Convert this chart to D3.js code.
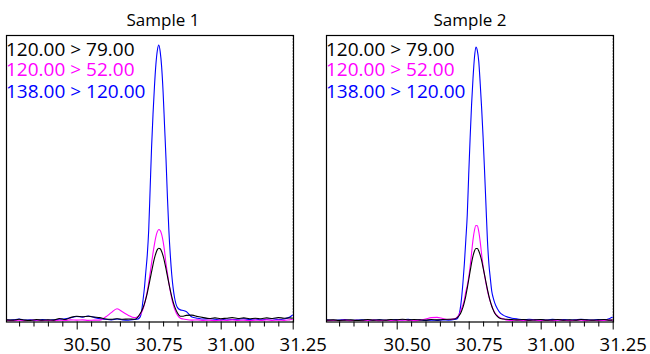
<!DOCTYPE html>
<html>
<head>
<meta charset="utf-8">
<script src="https://cdn.jsdelivr.net/npm/d3@7"></script>
<style>
body { margin: 0; background: #fff; }
svg { display: block; font-family: "Open Sans", sans-serif; }
</style>
</head>
<body>
<div id="chart"></div>
<script>
var w = 650;
var h = 354;

// retention times (min), shared by every trace
var times = [
  30.255, 30.28, 30.30, 30.32, 30.34, 30.36, 30.38, 30.40, 30.42, 30.44, 30.46, 30.48,
  30.50, 30.52, 30.54, 30.56, 30.58, 30.60, 30.62, 30.64, 30.66, 30.68, 30.70,
  30.71, 30.72, 30.725, 30.73, 30.735, 30.74, 30.745, 30.75, 30.755, 30.76, 30.765,
  30.77, 30.775, 30.78, 30.785, 30.79, 30.795, 30.80, 30.805, 30.81, 30.815, 30.82,
  30.825, 30.83, 30.835, 30.84, 30.85, 30.86, 30.87,
  30.88, 30.90, 30.92, 30.94, 30.96, 30.98, 31.00, 31.02, 31.04, 31.06, 31.08, 31.10,
  31.12, 31.14, 31.16, 31.18, 31.20, 31.22, 31.24, 31.25
];

// relative intensity (%), Sample 1
var s1Black = [
  0.6, 0.5, 0.8, 0.5, 0.4, 0.7, 0.5, 0.6, 0.5, 1.1, 0.7, 1.5, 1.9, 1.7, 1.9, 1.6, 1.4, 0.9, 0.8, 1.0, 0.8, 0.9, 0.8,
  1.3, 2.8, 3.7, 4.9, 6.4, 8.2, 10.3, 12.8, 15.4, 18.0, 20.6, 22.9, 24.7, 26.0, 26.5,
  26.3, 25.3, 23.7, 21.6, 19.1, 16.4, 13.8, 11.3, 9.0, 7.0, 5.4, 3.1, 1.9, 1.9,
  2.2, 2.3, 1.8, 1.4, 1.1, 1.3, 1.0, 1.2, 1.4, 1.1, 1.3, 1.0, 1.2, 1.0, 1.3, 1.1, 1.4, 1.2, 1.3, 1.2
];
var s1Magenta = [
  0.4, 0.3, 0.5, 0.3, 0.4, 0.5, 0.3, 0.4, 0.3, 0.5, 0.4, 0.6, 0.5, 0.6, 0.4, 0.5, 0.5, 1.6, 3.2, 4.6, 3.4, 2.2, 1.4,
  1.6, 2.4, 3.2, 4.4, 6.1, 8.3, 10.9, 14.0, 17.5, 21.2, 24.8, 28.0, 30.7, 32.5, 33.3,
  32.9, 31.5, 29.0, 25.5, 21.0, 17.5, 14.0, 11.0, 8.4, 6.2, 4.5, 2.3, 1.2, 0.9,
  0.7, 0.5, 0.6, 0.4, 0.5, 0.3, 0.5, 0.4, 0.6, 0.4, 0.5, 0.3, 0.5, 0.4, 0.6, 0.4, 0.5, 0.4, 0.6, 0.7
];
var s1Blue = [
  0.5, 0.6, 0.9, 0.5, 0.6, 0.4, 0.7, 0.5, 0.6, 0.8, 1.0, 1.4, 1.8, 1.6, 2.0, 1.5, 1.0, 0.8, 0.6, 0.9, 0.6, 0.5, 0.7,
  0.8, 1.6, 3.5, 7.5, 12, 18, 24, 33, 48, 63, 75, 85, 93, 98, 100,
  97.5, 92, 83, 71, 59, 45, 33, 24, 17, 12, 8.5, 5, 4.2, 4,
  3.6, 1.6, 1.2, 0.9, 1.0, 0.8, 0.6, 0.9, 0.7, 0.8, 1.0, 0.7, 0.9, 0.6, 0.8, 1.0, 0.7, 0.9, 1.6, 2.4
];

// relative intensity (%), Sample 2
var s2Black = [
  0.5, 0.6, 0.4, 0.5, 0.6, 0.4, 0.5, 0.7, 0.5, 0.6, 0.5, 0.7, 0.6, 0.8, 0.6, 0.7, 0.6, 0.5, 0.7, 0.6, 0.7, 0.8, 0.9,
  1.4, 2.6, 3.7, 5.1, 7.0, 9.3, 12.1, 15.1, 18.2, 21.2, 23.7, 25.5, 26.4, 26.4, 25.5,
  24.0, 22.0, 19.5, 16.9, 14.2, 11.6, 9.3, 7.3, 5.6, 4.2, 3.1, 1.8, 1.1, 0.9,
  0.8, 0.7, 0.6, 0.7, 0.5, 0.6, 0.7, 0.5, 0.6, 0.7, 0.5, 0.6, 0.5, 0.7, 0.6, 0.5, 0.6, 0.7, 0.5, 0.6
];
var s2Magenta = [
  0.3, 0.4, 0.3, 0.5, 0.3, 0.4, 0.3, 0.4, 0.5, 0.3, 0.4, 0.3, 0.4, 0.5, 0.4, 0.3, 0.5, 0.9, 1.4, 1.5, 1.1, 0.7, 1.0,
  1.6, 3.3, 4.6, 6.0, 7.9, 10.8, 13.0, 16.0, 20.0, 24.8, 29.6, 33.0, 34.7, 34.6, 32.5,
  28.8, 24.2, 20.0, 16.8, 13.8, 11.2, 9.0, 7.2, 5.6, 4.4, 3.3, 2.0, 1.3, 1.0,
  0.6, 0.4, 0.5, 0.3, 0.4, 0.5, 0.3, 0.4, 0.3, 0.5, 0.4, 0.3, 0.4, 0.5, 0.3, 0.4, 0.3, 0.4, 0.5, 0.4
];
var s2Blue = [
  0.6, 0.4, 0.5, 0.7, 0.4, 0.5, 0.6, 0.4, 0.5, 0.6, 0.4, 0.5, 0.7, 0.6, 0.8, 0.5, 0.6, 0.4, 0.5, 0.4, 0.6, 0.5, 0.7,
  1.0, 4.2, 8.2, 14, 21, 29.5, 38.5, 53, 66.5, 78.5, 88, 95.5, 99.3, 98, 94,
  86, 77, 66.6, 54.6, 42, 29.5, 21, 15.7, 11, 8.6, 6.8, 4.5, 3.0, 2.3,
  1.8, 1.2, 0.9, 0.7, 0.8, 0.6, 0.7, 0.5, 0.8, 0.6, 0.7, 0.5, 0.6, 0.8, 0.6, 0.5, 0.7, 0.6, 1.1, 1.6
];

var panelTitles = ["Sample 1", "Sample 2"];
var transitions = ["120.00 > 79.00", "120.00 > 52.00", "138.00 > 120.00"];
var traceColors = ["#000000", "#ff00ff", "#0000ff"];
var majorTicks = [30.50, 30.75, 31.00, 31.25];
var minorTicks = [30.30, 30.35, 30.40, 30.45, 30.55, 30.60, 30.65, 30.70,
                  30.80, 30.85, 30.90, 30.95, 31.05, 31.10, 31.15, 31.20];

var panels = [
  {title: panelTitles[0], dx: 0, titleX: 163, series: [s1Black, s1Magenta, s1Blue]},
  {title: panelTitles[1], dx: 320, titleX: 150, series: [s2Black, s2Magenta, s2Blue]}
];

// plot box inside each panel
var box = {left: 6, right: 294, top: 35, bottom: 322};

var x = d3.scaleLinear().domain([30.25, 31.25]).range([4.7, 292.7]);
var y = d3.scaleLinear().domain([0, 100]).range([321.5, 45]);

var line = d3.line()
    .x(function(d) { return x(d[0]); })
    .y(function(d) { return y(d[1]); })
    .curve(d3.curveMonotoneX);

var svg = d3.select("#chart")
    .append("svg")
    .attr("width", w)
    .attr("height", h);

svg.append("defs").append("clipPath")
    .attr("id", "plotclip")
  .append("rect")
    .attr("x", box.left)
    .attr("y", box.top)
    .attr("width", box.right - box.left)
    .attr("height", box.bottom - box.top);

panels.forEach(function(p) {
  var g = svg.append("g").attr("transform", "translate(" + p.dx + ",0)");

  g.append("text")
      .attr("x", p.titleX)
      .attr("y", 26)
      .attr("text-anchor", "middle")
      .style("font-size", "17px")
      .attr("fill", "#000")
      .text(p.title);

  // faint guide at the right end of the trace window
  g.append("line")
      .attr("x1", 292.5).attr("x2", 292.5)
      .attr("y1", box.top).attr("y2", box.bottom)
      .attr("stroke", "#d4d4d4")
      .attr("stroke-dasharray", "2,1");

  // traces: blue first, black last
  var plot = g.append("g").attr("clip-path", "url(#plotclip)");
  [2, 1, 0].forEach(function(i) {
    var pts = times.map(function(t, k) { return [t, p.series[i][k]]; });
    plot.append("path")
        .datum(pts)
        .attr("fill", "none")
        .attr("stroke", traceColors[i])
        .attr("stroke-width", 1.1)
        .attr("d", line);
  });

  g.append("rect")
      .attr("x", box.left + 0.5)
      .attr("y", box.top + 0.5)
      .attr("width", box.right - box.left - 1)
      .attr("height", box.bottom - box.top - 0.5)
      .attr("fill", "none")
      .attr("stroke", "#000")
      .attr("stroke-width", 1.2);

  // minor ticks
  var minorAxis = g.append("g")
      .attr("transform", "translate(0," + (box.bottom - 0.5) + ")")
      .call(d3.axisBottom(x).tickValues(minorTicks).tickSize(5).tickFormat(""));
  minorAxis.select(".domain").remove();

  // major ticks with labels
  var majorAxis = g.append("g")
      .attr("transform", "translate(0," + (box.bottom - 0.5) + ")")
      .call(d3.axisBottom(x).tickValues(majorTicks).tickSize(8).tickFormat(d3.format(".2f")));
  majorAxis.select(".domain").remove();
  majorAxis.selectAll("text")
      .attr("x", 10)
      .attr("y", 29)
      .attr("dy", null)
      .attr("fill", "#000")
      .style("font-family", "'Open Sans', sans-serif")
      .style("font-size", "18.5px");
  g.selectAll(".tick line").attr("stroke", "#000");

  // transition legend
  var legendY = [56, 75.5, 97.5];
  transitions.forEach(function(label, i) {
    g.append("text")
        .attr("x", 6)
        .attr("y", legendY[i])
        .attr("fill", traceColors[i])
        .style("font-size", "19px")
        .text(label);
  });
});
</script>
</body>
</html>
